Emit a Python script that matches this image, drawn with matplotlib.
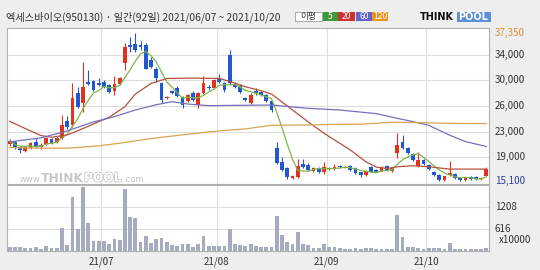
import numpy as np
import pandas as pd
import matplotlib
matplotlib.use("Agg")
import matplotlib.pyplot as plt
import matplotlib.patheffects as pe
from matplotlib.patches import Rectangle

plt.rcParams['font.family'] = ['Noto Sans CJK KR', 'DejaVu Sans']

# 일봉 데이터 2021/06/07 ~ 2021/10/20 (92 거래일)
opens = [20750, 20950, 20300, 19600, 20050, 21050, 20300, 20650, 21450, 21050,
         21550, 24150, 23550, 28300, 26800, 30050, 30150, 29900, 29950, 29550,
         28650, 29650, 32850, 35600, 35700, 35600, 35600, 33350, 32050, 29800,
         27550, 28700, 29150, 27800, 27150, 28300, 26550, 28300, 29300, 29050,
         30550, 29800, 34100, 29550, 29450, 27550, 26800, 28650, 28550, 28050,
         27150, 20050, 18000, 17000, 15600, 15750, 17600, 17500, 16650, 17100,
         16400, 16900, 16900, 17350, 17100, 17300, 17000, 16400, 16000, 17250,
         16750, 16650, 17400, 16600, 19250, 20950, 20150, 19100, 17400, 18250,
         17500, 16500, 16000, 15200, 16000, 16150, 15500, 15250, 15750, 15750,
         15350, 15900]
highs = [21450, 21100, 20400, 20350, 20950, 21550, 20800, 21800, 21600, 21700,
         25050, 24900, 29800, 29300, 33100, 31800, 30300, 30550, 30300, 29700,
         30950, 30800, 35850, 36850, 37350, 36200, 35850, 33850, 32300, 30000,
         27950, 28850, 29350, 27950, 28200, 28650, 28450, 30950, 29550, 30450,
         31150, 29950, 34850, 30050, 29650, 27700, 28300, 29050, 28700, 28200,
         27300, 20950, 18750, 17150, 16000, 18350, 18400, 17750, 17150, 17250,
         17950, 17250, 17650, 17450, 17400, 17450, 17150, 16500, 16800, 17400,
         16900, 17400, 17550, 17250, 22300, 22050, 20300, 19300, 19500, 18400,
         17650, 16650, 16150, 15900, 18100, 16300, 15650, 15650, 15900, 15850,
         15650, 17150]
lows = [20400, 20000, 19250, 19500, 19900, 20100, 19900, 20500, 20650, 20900,
        21400, 23000, 23300, 26100, 25450, 29500, 28700, 29400, 29150, 28300,
        28050, 29500, 31800, 34600, 34500, 34850, 31900, 32100, 30050, 26800,
        27400, 28150, 27800, 26050, 27000, 27150, 26050, 28150, 28800, 28900,
        29900, 28550, 29650, 29150, 28300, 27150, 26650, 28050, 27900, 27000,
        25550, 17600, 16600, 15350, 15450, 15600, 17100, 16600, 16500, 16350,
        16150, 16800, 16800, 17050, 17000, 16650, 16100, 15750, 15900, 16400,
        16400, 16550, 16550, 16500, 18500, 19900, 19100, 18100, 17250, 17500,
        16800, 15900, 15150, 15100, 15900, 15400, 15150, 15150, 15300, 15300,
        15250, 15800]
closes = [21100, 20150, 19800, 20200, 20800, 20300, 20550, 21550, 20800, 21550,
          23550, 23300, 27650, 26300, 29300, 29700, 28800, 29550, 29300, 28450,
          29650, 30550, 35350, 35350, 34850, 35350, 32050, 32350, 30550, 27300,
          27800, 28300, 27950, 26550, 28050, 27300, 28300, 29800, 29050, 30300,
          30050, 28800, 29800, 29300, 28450, 27300, 28050, 28400, 28050, 27150,
          25800, 17750, 16750, 15750, 15850, 17400, 17250, 16750, 17000, 16500,
          17250, 17100, 17250, 17150, 17250, 16750, 16250, 16000, 16650, 16500,
          16500, 17250, 16650, 17100, 20550, 20050, 19250, 18250, 18250, 17600,
          16900, 16000, 15200, 15800, 16250, 15500, 15250, 15500, 15400, 15400,
          15500, 16900]
# 거래량 (x10000)
volumes = [110, 110, 110, 92, 92, 110, 64, 138, 73, 92,
           642, 174, 1476, 605, 1760, 761, 275, 266, 266, 183,
           339, 293, 1696, 926, 908, 257, 403, 229, 339, 358,
           248, 156, 138, 183, 202, 110, 183, 403, 128, 128,
           138, 138, 605, 183, 165, 147, 183, 147, 119, 101,
           119, 954, 431, 248, 183, 523, 202, 156, 92, 92,
           202, 101, 110, 83, 64, 64, 83, 64, 83, 83,
           64, 64, 64, 64, 1000, 385, 110, 110, 83, 64,
           83, 83, 83, 64, 229, 64, 64, 46, 64, 64,
           46, 92]

# 이동평균선
ma20_idx = [0, 3, 6, 8, 11, 14, 17, 19, 22, 24, 27, 30, 35, 40, 42, 45, 48, 50,
            52, 54, 57, 60, 63, 65, 68, 70, 72, 74, 77, 80, 84, 91]
ma20_val = [24100, 23000, 21950, 21700, 22050, 23000, 24050, 24700, 26300, 28200,
            29800, 30550, 30600, 30550, 30100, 29300, 28700, 28200, 27000, 25800,
            24000, 22300, 20800, 19800, 18000, 17200, 17000, 17250, 17400, 17250,
            16900, 16900]
ma60_idx = [0, 6, 11, 16, 20, 24, 28, 31, 34, 38, 43, 50, 57, 63, 70, 74, 77, 80,
            84, 87, 91]
ma60_val = [21000, 21600, 22650, 24000, 24800, 25800, 26600, 27050, 26700, 26450,
            26500, 26550, 26050, 25800, 25250, 24550, 24050, 23500, 22000, 21050,
            20300]
ma120_idx = [0, 6, 11, 17, 21, 27, 34, 40, 45, 50, 57, 63, 67, 73, 78, 83, 91]
ma120_val = [20150, 20050, 20050, 20400, 20800, 21500, 22150, 22650, 22950, 23500,
             23550, 23650, 23650, 23950, 23900, 23800, 23750]

month_labels = ['21/07', '21/08', '21/09', '21/10']
month_start = [18, 40, 61, 80]
price_grid = [34100, 30250, 26400, 22550, 18700]
price_labels = ['34,000', '30,000', '26,000', '23,000', '19,000']
vol_grid = [616, 1208]

up_c = '#e0321e'
dn_c = '#2158d0'
txt_c = '#333333'
fs = 7

fig = plt.figure(figsize=(5.4, 2.7), dpi=100, facecolor='#eeeeee')
ax = fig.add_axes([7/540, 1-184/270, 482/540, 156/270], facecolor='white')
axv = fig.add_axes([7/540, 1-251/270, 482/540, 66/270], facecolor='white', sharex=ax)

n = len(closes)
idx = np.arange(n)
o = np.array(opens); h = np.array(highs); l = np.array(lows); c = np.array(closes)
col = np.where(c >= o, up_c, dn_c)

for a in (ax, axv):
    for m in month_start:
        a.axvline(m - 0.5, color='#dddddd', lw=0.8, zorder=0)
    for s in a.spines.values():
        s.set_color('#b0b0b0')
        s.set_linewidth(0.8)
    a.tick_params(left=False, bottom=False, labelleft=False, labelbottom=False)
for g in price_grid:
    ax.axhline(g, color='#dddddd', lw=0.8, zorder=0)
for g in vol_grid:
    axv.axhline(g, color='#dddddd', lw=0.8, zorder=0)

# 캔들
ax.vlines(idx, l, h, colors=col, lw=0.8, zorder=2)
body = np.maximum(np.abs(c - o), 60)
ax.bar(idx, body, bottom=np.minimum(o, c), width=0.72, color=col, zorder=3)

# 이동평균
ma5 = pd.Series(closes).rolling(5, min_periods=1).mean()
ax.plot(idx, ma5, color='#7cb84a', lw=0.9, zorder=4)
ax.plot(ma20_idx, ma20_val, color='#b5523b', lw=0.9, zorder=4)
ax.plot(ma60_idx, ma60_val, color='#7670bb', lw=0.9, zorder=4)
ax.plot(ma120_idx, ma120_val, color='#d8a452', lw=0.9, zorder=4)

ax.set_xlim(-0.5, n - 0.5)
ax.set_ylim(14655, 38150)

axv.bar(idx, volumes, width=0.72, color='#a6abc0', zorder=2)
axv.set_ylim(0, 1810)

# 오른쪽 눈금
ty = ax.get_yaxis_transform()
for g, t in zip(price_grid, price_labels):
    ax.text(1.012, g, t, transform=ty, fontsize=fs, va='center', color=txt_c)
ax.text(1.012, max(highs), f'{max(highs):,}', transform=ty, fontsize=fs,
        va='center', color='#d98c3a')
ax.text(1.012, min(lows), f'{min(lows):,}', transform=ty, fontsize=fs,
        va='center', color='#2b3a9a')
tv = axv.get_yaxis_transform()
for g in vol_grid:
    axv.text(1.012, g, str(g), transform=tv, fontsize=fs, va='center', color=txt_c)
axv.text(1.02, 300, 'x10000', transform=tv, fontsize=fs, va='center', color=txt_c)

# 날짜 라벨
for m, t in zip(month_start, month_labels):
    axv.text(m - 0.5, -0.17, t, transform=axv.get_xaxis_transform(), fontsize=fs,
             ha='center', va='center', color=txt_c)

# 제목
fig.text(6/540, 1-17/270, '엑세스바이오(950130) · 일간(92일) 2021/06/07 ~ 2021/10/20',
         fontsize=7.35, va='center', color=txt_c)

# 이평 범례
boxes = [('이평', 295, 322, 'white', txt_c), ('5', 323, 338, '#3c9a3c', 'white'),
         ('20', 338, 355, '#cc3333', 'white'), ('60', 356, 372, '#6464c8', 'white'),
         ('120', 372, 388, '#e6961e', 'white')]
for t, x0, x1, fc, tc in boxes:
    fig.patches.append(Rectangle((x0/540, 1-21/270), (x1-x0)/540, 8.5/270,
                                 transform=fig.transFigure, fc=fc,
                                 ec='#999999' if fc == 'white' else 'none', lw=0.6))
    fig.text((x0+x1)/2/540, 1-16.8/270, t, fontsize=6.2, ha='center', va='center', color=tc)

# 로고
fig.text(420/540, 1-17/270, 'THINK', fontsize=7, fontweight='bold', va='center',
         color='#111111', family='DejaVu Sans')
fig.patches.append(Rectangle((457/540, 1-22/270), 34/540, 10/270,
                             transform=fig.transFigure, fc='#5b8fd8', ec='none'))
fig.text(458/540, 1-17/270, 'POOL', fontsize=7, fontweight='bold', va='center',
         color='white', family='DejaVu Sans')

# 워터마크
fig.text(20/540, 1-179/270, 'www.', fontsize=6, va='center', color='#c4c4c4',
         family='DejaVu Sans')
fig.text(41/540, 1-178/270, 'THINK', fontsize=8.8, fontweight='bold', va='center',
         color='#c8c8c8', family='DejaVu Sans')
fig.text(84/540, 1-178/270, 'POOL', fontsize=8.8, fontweight='bold', va='center',
         color='white', family='DejaVu Sans',
         path_effects=[pe.withStroke(linewidth=1.2, foreground='#c8c8c8')])
fig.text(123/540, 1-179/270, '.com', fontsize=6, va='center', color='#c4c4c4',
         family='DejaVu Sans')

fig.savefig('out.png', dpi=100, facecolor=fig.get_facecolor())
